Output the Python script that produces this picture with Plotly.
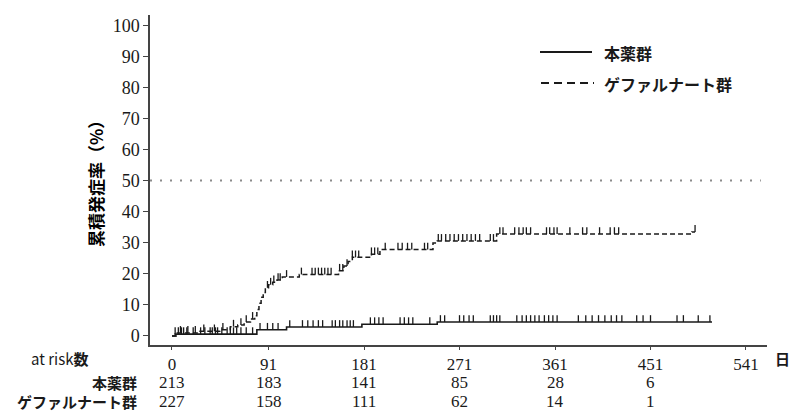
import plotly.graph_objects as go

# Cumulative incidence (%) step functions: event days and level after each step
drug_days = [0, 3, 80, 108, 179, 250, 509]
drug_pct = [0.0, 0.6, 2.0, 2.9, 3.8, 4.5, 4.5]

gef_days = [0, 5, 25, 45, 55, 62, 68, 74, 78, 80, 82, 84, 86, 88, 91, 95, 99, 104,
            120, 157, 162, 166, 170, 188, 196, 246, 250, 306, 490, 493]
gef_pct = [0.0, 1.0, 1.5, 2.0, 3.0, 3.5, 4.5, 5.5, 6.5, 8.5, 10.5, 12.5, 14.0, 15.5,
           16.5, 17.3, 18.0, 19.0, 19.8, 21.0, 22.5, 24.0, 25.3, 26.3, 27.8, 29.9,
           30.6, 32.8, 33.5, 33.5]

# Censoring days
drug_cens = [3, 6, 9, 11, 14, 20, 27, 31, 36, 38, 41, 43, 47, 52, 55, 58, 61, 65, 70,
             76, 83, 90, 95, 100, 111, 123, 128, 133, 138, 142, 151, 154, 158, 161, 165,
             168, 171, 187, 191, 195, 199, 215, 219, 223, 227, 243, 253, 257, 271, 275,
             280, 284, 300, 303, 306, 309, 325, 330, 334, 338, 342, 346, 351, 355, 359,
             363, 383, 390, 396, 402, 408, 414, 419, 424, 438, 444, 451, 476, 482, 496,
             507]
gef_cens = [8, 15, 22, 30, 40, 48, 58, 65, 70, 76, 90, 93, 96, 100, 102, 108, 122, 132,
            135, 138, 141, 144, 147, 150, 158, 161, 165, 170, 173, 176, 188, 191, 194,
            201, 213, 217, 222, 226, 238, 241, 251, 254, 258, 262, 266, 270, 274, 278,
            282, 286, 290, 300, 303, 309, 312, 323, 327, 331, 334, 338, 353, 356, 360,
            363, 375, 387, 391, 403, 413, 417, 421, 493]

# Axis ticks and number-at-risk table
x_ticks = [0, 91, 181, 271, 361, 451, 541]
risk_drug = [213, 183, 141, 85, 28, 6]
risk_gef = [227, 158, 111, 62, 14, 1]
group_names = ["本薬群", "ゲファルナート群"]
reference_level = 50

JP = "Noto Sans CJK JP"
SERIF = "Liberation Serif"
INK = "#1a1a1a"
CENSOR_TICK = 2.2  # height of censoring ticks, in % units

W, H = 790, 412
PL, PR, PT, PB = 150, 767, 15, 345


def px_x(px):
    return (px - PL) / (PR - PL)


def px_y(py):
    return (PB - py) / (PB - PT)


def step_value(days, pct, t):
    v = pct[0]
    for d, p in zip(days, pct):
        if d <= t:
            v = p
    return v


def jp(text):
    return "<b>" + text + "</b>"


fig = go.Figure()

# 50% reference line
fig.add_shape(type="line", xref="paper", yref="y", x0=0, x1=0.99,
              y0=reference_level, y1=reference_level,
              line=dict(color="#8a8a8a", width=2, dash="2px,8px"))

fig.add_trace(go.Scatter(x=drug_days, y=drug_pct, mode="lines", line_shape="hv",
                         line=dict(color=INK, width=1.6), showlegend=False,
                         name=group_names[0]))
fig.add_trace(go.Scatter(x=gef_days, y=gef_pct, mode="lines", line_shape="hv",
                         line=dict(color=INK, width=1.5, dash="5px,3px"),
                         showlegend=False, name=group_names[1]))

# Censoring marks: short upward ticks standing on each curve
for cens, days, pct in ((drug_cens, drug_days, drug_pct), (gef_cens, gef_days, gef_pct)):
    fig.add_trace(go.Scatter(
        x=cens, y=[step_value(days, pct, t) for t in cens], mode="markers",
        marker=dict(size=1, color="rgba(0,0,0,0)"),
        error_y=dict(type="constant", value=CENSOR_TICK, valueminus=0, symmetric=False,
                     thickness=1.3, width=0, color=INK),
        showlegend=False, hoverinfo="skip"))

annotations = []

# Legend drawn as short line samples plus labels
fig.add_shape(type="line", xref="paper", yref="paper", x0=px_x(540), x1=px_x(592),
              y0=px_y(52), y1=px_y(52), line=dict(color=INK, width=2))
fig.add_shape(type="line", xref="paper", yref="paper", x0=px_x(541), x1=px_x(594),
              y0=px_y(83), y1=px_y(83), line=dict(color=INK, width=2, dash="8px,5px"))
for name, py in zip(group_names, (53, 84)):
    annotations.append(dict(text=jp(name), xref="paper", yref="paper", x=px_x(602),
                            y=px_y(py), xanchor="left", yanchor="middle", showarrow=False,
                            font=dict(family=JP, size=16, color=INK)))

# Y-axis title
annotations.append(dict(text=jp("累積発症率（%）"), xref="paper", yref="paper", x=px_x(95),
                        y=px_y(180), textangle=-90, xanchor="center", yanchor="middle",
                        showarrow=False, font=dict(family=JP, size=17, color="#000000")))

# Unit label for x axis
annotations.append(dict(text=jp("日"), xref="paper", yref="paper", x=px_x(782),
                        y=px_y(358), xanchor="center", yanchor="middle", showarrow=False,
                        font=dict(family=JP, size=15, color=INK)))

# Number-at-risk table
annotations.append(dict(text="at risk" + jp("数"), xref="paper", yref="paper", x=px_x(91),
                        y=px_y(358), xanchor="right", yanchor="middle", showarrow=False,
                        font=dict(family=JP, size=15, color=INK)))
for name, row, py in ((group_names[0], risk_drug, 382), (group_names[1], risk_gef, 401)):
    annotations.append(dict(text=jp(name), xref="paper", yref="paper", x=px_x(138),
                            y=px_y(py), xanchor="right", yanchor="middle", showarrow=False,
                            borderpad=0, font=dict(family=JP, size=15, color=INK)))
    for t, n in zip(x_ticks, row):
        annotations.append(dict(text=str(n), xref="x", yref="paper", x=t, y=px_y(py),
                                xanchor="center", yanchor="middle", showarrow=False,
                                borderpad=0, font=dict(family=SERIF, size=17, color=INK)))

fig.update_layout(
    width=W, height=H,
    margin=dict(l=PL, r=W - PR, t=PT, b=H - PB),
    paper_bgcolor="white", plot_bgcolor="white",
    annotations=annotations,
    xaxis=dict(range=[-20.7, 560.8], tickvals=x_ticks, ticktext=[str(v) for v in x_ticks],
               showline=True, linecolor="#444", linewidth=1.5, ticks="outside",
               ticklen=3, tickcolor="#444", showgrid=False, zeroline=False,
               ticklabelstandoff=0,
               tickfont=dict(family=SERIF, size=17, color=INK)),
    yaxis=dict(range=[-2.9, 103.3], tickvals=list(range(0, 101, 10)),
               showline=True, linecolor="#444", linewidth=1.5, ticks="outside",
               ticklen=5, tickcolor="#444", showgrid=False, zeroline=False,
               tickfont=dict(family=SERIF, size=18, color=INK)),
)

fig.write_html("out.html")
